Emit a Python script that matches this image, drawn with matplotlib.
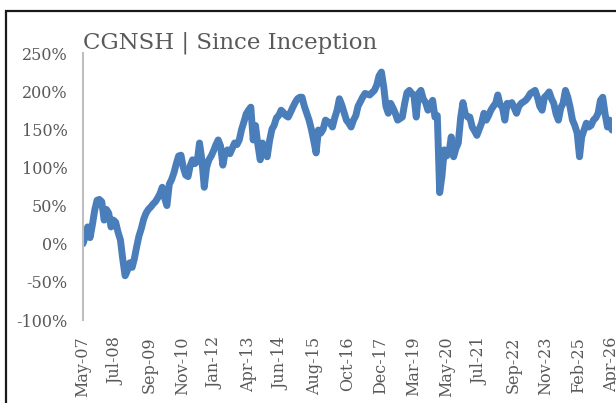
import matplotlib
matplotlib.use("Agg")
import matplotlib.pyplot as plt
import matplotlib.dates as mdates
import numpy as np
import pandas as pd
from matplotlib.patches import Rectangle

# Monthly cumulative return (%) since inception, May-2007 .. Apr-2026
returns_pct = [
    0, 10, 22, 8, 25, 44, 57, 58, 55, 31, 45, 40,            # May07-Apr08
    22, 31, 28, 15, 5, -20, -42, -35, -25, -31, -20, -4,      # May08-Apr09
    10, 20, 32, 40, 45, 48, 52, 55, 60, 66, 74, 60,           # May09-Apr10
    50, 78, 84, 93, 105, 115, 116, 100, 90, 88, 102, 110,     # May10-Apr11
    105, 108, 132, 110, 74, 100, 110, 115, 122, 130, 136, 128,  # May11-Apr12
    103, 120, 123, 118, 125, 132, 130, 136, 150, 160, 170, 175,  # May12-Apr13
    179, 136, 155, 130, 110, 132, 125, 114, 135, 150, 155, 165,  # May13-Apr14
    168, 175, 172, 168, 166, 172, 179, 185, 190, 192, 192, 180,  # May14-Apr15
    171, 162, 150, 135, 119, 149, 145, 150, 162, 160, 158, 153,  # May15-Apr16
    165, 175, 190, 182, 172, 162, 158, 153, 162, 168, 180, 186,  # May16-Apr17
    192, 197, 196, 195, 198, 201, 208, 220, 225, 205, 180, 171,  # May17-Apr18
    184, 178, 171, 162, 164, 166, 184, 198, 201, 197, 195, 166,  # May18-Apr19
    197, 201, 190, 185, 175, 182, 188, 166, 168, 67, 88, 123,    # May19-Apr20
    115, 119, 140, 114, 125, 132, 165, 185, 170, 166, 166, 153,  # May20-Apr21
    148, 142, 150, 158, 171, 162, 168, 175, 180, 184, 195, 182,  # May21-Apr22
    179, 162, 184, 182, 185, 178, 171, 180, 184, 186, 188, 192,  # May22-Apr23
    197, 199, 201, 192, 180, 175, 192, 195, 199, 190, 184, 170,  # May23-Apr24
    162, 178, 184, 201, 192, 179, 162, 155, 145, 114, 140, 149,  # May24-Apr25
    158, 153, 155, 162, 165, 171, 188, 192, 170, 153, 162, 149,  # May25-Apr26
]
start_date = "2007-05-01"
end_tick_date = "2026-04-01"
tick_labels = ["May-07", "Jul-08", "Sep-09", "Nov-10", "Jan-12", "Apr-13",
               "Jun-14", "Aug-15", "Oct-16", "Dec-17", "Mar-19", "May-20",
               "Jul-21", "Sep-22", "Nov-23", "Feb-25", "Apr-26"]
y_ticks = [-100, -50, 0, 50, 100, 150, 200, 250]
title = "CGNSH | Since Inception"

dates = pd.date_range(start_date, periods=len(returns_pct), freq="MS")

W, H = 616, 403
fig = plt.figure(figsize=(W / 100, H / 100), dpi=100)
fig.patch.set_facecolor("white")

# outer frame (cropped on right/bottom)
fig.patches.append(Rectangle((6 / W, -0.2), 1.5, 1 - 11 / H + 0.2,
                             transform=fig.transFigure, fill=False,
                             edgecolor="#1a1a1a", linewidth=1.6, zorder=0))

ax = fig.add_axes([83 / W, 1 - 320 / H, (612 - 83) / W, (320 - 53) / H])
ax.plot(dates, returns_pct, color="#4A7EBB", linewidth=5.0,
        solid_joinstyle="round", solid_capstyle="round")

x0 = mdates.date2num(pd.Timestamp(start_date))
x1 = mdates.date2num(pd.Timestamp(end_tick_date))
ax.set_xlim(x0, x1)
ax.set_xticks(np.linspace(x0, x1, len(tick_labels)))
ax.set_xticklabels(tick_labels, rotation=90)
ax.set_ylim(-100, 250)
ax.set_yticks(y_ticks)
ax.set_yticklabels([f"{v}%" for v in y_ticks])

for s in ["top", "right", "bottom"]:
    ax.spines[s].set_visible(False)
ax.spines["left"].set_color("#BFBFBF")
ax.spines["left"].set_linewidth(1.5)
ax.tick_params(axis="both", length=0, colors="#595959", labelsize=11.5)
ax.tick_params(axis="x", pad=12)
ax.tick_params(axis="y", pad=11)
for lab in ax.get_xticklabels() + ax.get_yticklabels():
    lab.set_fontfamily("DejaVu Serif")
ax.set_facecolor("none")

fig.text(83 / W, 1 - 43 / H, title, ha="left", va="center",
         fontsize=16.5, color="#595959", family="DejaVu Serif")

fig.savefig("out.png", dpi=100)
